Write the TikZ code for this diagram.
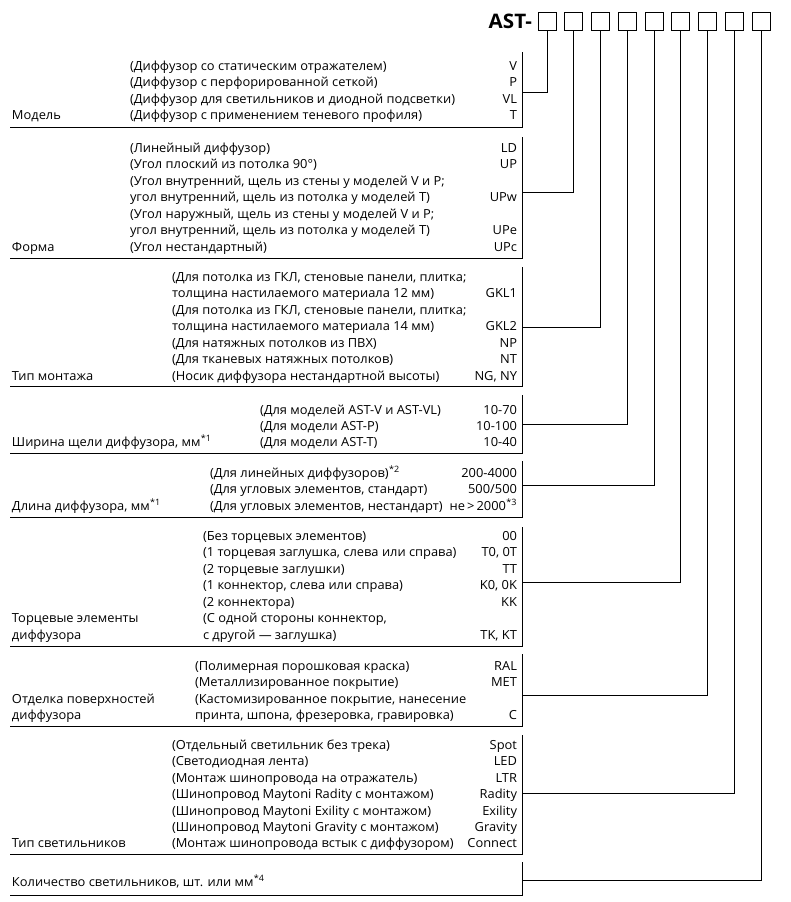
\documentclass[tikz,border=0pt]{standalone}
\usepackage{fontspec}
\setmainfont[FakeStretch=1.03]{Open Sans}
\newcommand{\fnmark}[1]{\textsuperscript{\kern0.3pt*#1}}
\begin{document}
\begin{tikzpicture}[x=1pt,y=-1pt,
  every node/.style={inner sep=0pt,outer sep=0pt},
  font=\fontsize{12.5}{14}\selectfont,
  cat/.style={anchor=base west},
  desc/.style={anchor=base west},
  code/.style={anchor=base east},
  digit/.style={draw,minimum width=18pt,minimum height=18pt,line width=0.9pt},
  rule/.style={line width=1pt}]
\useasboundingbox (0,0) rectangle (791,902);

% header
\node[anchor=east,font=\bfseries\fontsize{20}{20}\selectfont] (ast) at (532,21) {AST-};
\foreach \i in {1,...,9} \node[digit] (b\i) at ({547+26.75*(\i-1)},21) {};

% ---- Model
\node[desc] (m1) at (130,70) {(Диффузор со статическим отражателем)};
\node[code] (m1c) at (517,70) {V};
\node[desc] (m2) at (130,86.5) {(Диффузор с перфорированной сеткой)};
\node[code] (m2c) at (517,86.5) {P};
\node[desc] (m3) at (130,103) {(Диффузор для светильников и диодной подсветки)};
\node[code] (m3c) at (517,103) {VL};
\node[desc] (m4) at (130,119.5) {(Диффузор с применением теневого профиля)};
\node[code] (m4c) at (517,119.5) {T};
\node[cat] (mL) at (12,119.5) {Модель};
\coordinate (mT) at (522,52); \coordinate (mB) at (522,127); \coordinate (mE) at (10,127); \coordinate (mC) at (522,92);
\draw[rule] (mT) -- (mB) -- (mE);
\draw[rule] (mC) -| (b1.south);

% ---- Form
\node[desc] (f1) at (130,152) {(Линейный диффузор)};
\node[code] (f1c) at (517,152) {LD};
\node[desc] (f2) at (130,168.5) {(Угол плоский из потолка 90°)};
\node[code] (f2c) at (517,168.5) {UP};
\node[desc] (f3) at (130,185) {(Угол внутренний, щель из стены у моделей V и P;};
\node[desc] (f4) at (130,201.5) {угол внутренний, щель из потолка у моделей T)};
\node[code] (f4c) at (517,201.5) {UPw};
\node[desc] (f5) at (130,218) {(Угол наружный, щель из стены у моделей V и P;};
\node[desc] (f6) at (130,234.5) {угол внутренний, щель из потолка у моделей T)};
\node[code] (f6c) at (517,234.5) {UPe};
\node[desc] (f7) at (130,251) {(Угол нестандартный)};
\node[code] (f7c) at (517,251) {UPc};
\node[cat] (fL) at (12,251) {Форма};
\coordinate (fT) at (522,137); \coordinate (fB) at (522,258); \coordinate (fE) at (10,258); \coordinate (fC) at (522,192);
\draw[rule] (fT) -- (fB) -- (fE);
\draw[rule] (fC) -| (b2.south);

% ---- Mount
\node[desc] (t1) at (172,281) {(Для потолка из ГКЛ, стеновые панели, плитка;};
\node[desc] (t2) at (172,297.5) {толщина настилаемого материала 12 мм)};
\node[code] (t2c) at (517,297.5) {GKL1};
\node[desc] (t3) at (172,314) {(Для потолка из ГКЛ, стеновые панели, плитка;};
\node[desc] (t4) at (172,330.5) {толщина настилаемого материала 14 мм)};
\node[code] (t4c) at (517,330.5) {GKL2};
\node[desc] (t5) at (172,347) {(Для натяжных потолков из ПВХ)};
\node[code] (t5c) at (517,347) {NP};
\node[desc] (t6) at (172,363.5) {(Для тканевых натяжных потолков)};
\node[code] (t6c) at (517,363.5) {NT};
\node[desc] (t7) at (172,380) {(Носик диффузора нестандартной высоты)};
\node[code] (t7c) at (517,380) {NG, NY};
\node[cat] (tL) at (12,380) {Тип монтажа};
\coordinate (tT) at (522,267); \coordinate (tB) at (522,386); \coordinate (tE) at (10,386); \coordinate (tC) at (522,327);
\draw[rule] (tT) -- (tB) -- (tE);
\draw[rule] (tC) -| (b3.south);

% ---- Width
\node[desc] (w1) at (260,414) {(Для моделей AST-V и AST-VL)};
\node[code] (w1c) at (517,414) {10-70};
\node[desc] (w2) at (260,430) {(Для модели AST-P)};
\node[code] (w2c) at (517,430) {10-100};
\node[desc] (w3) at (260,446) {(Для модели AST-T)};
\node[code] (w3c) at (517,446) {10-40};
\node[cat] (wL) at (12,446) {Ширина щели диффузора, мм\fnmark{1}};
\coordinate (wT) at (522,395); \coordinate (wB) at (522,453); \coordinate (wE) at (10,453); \coordinate (wC) at (522,424);
\draw[rule] (wT) -- (wB) -- (wE);
\draw[rule] (wC) -| (b4.south);

% ---- Length
\node[desc] (l1) at (210,477) {(Для линейных диффузоров)\fnmark{2}};
\node[code] (l1c) at (517,477) {200-4000};
\node[desc] (l2) at (210,493.5) {(Для угловых элементов, стандарт)};
\node[code] (l2c) at (517,493.5) {500/500};
\node[desc] (l3) at (210,510) {(Для угловых элементов, нестандарт)};
\node[code] (l3c) at (517,510) {не\,>\,2000\fnmark{3}};
\node[cat] (lL) at (12,510) {Длина диффузора, мм\fnmark{1}};
\coordinate (lT) at (522,461); \coordinate (lB) at (522,517); \coordinate (lE) at (10,517); \coordinate (lC) at (522,485);
\draw[rule] (lT) -- (lB) -- (lE);
\draw[rule] (lC) -| (b5.south);

% ---- End elements
\node[desc] (e1) at (203,540) {(Без торцевых элементов)};
\node[code] (e1c) at (517,540) {00};
\node[desc] (e2) at (203,556.5) {(1 торцевая заглушка, слева или справа)};
\node[code] (e2c) at (517,556.5) {T0, 0T};
\node[desc] (e3) at (203,573) {(2 торцевые заглушки)};
\node[code] (e3c) at (517,573) {TT};
\node[desc] (e4) at (203,589.5) {(1 коннектор, слева или справа)};
\node[code] (e4c) at (517,589.5) {K0, 0K};
\node[desc] (e5) at (203,606) {(2 коннектора)};
\node[code] (e5c) at (517,606) {KK};
\node[desc] (e6) at (203,622.5) {(С одной стороны коннектор,};
\node[desc] (e7) at (203,639) {с другой — заглушка)};
\node[code] (e7c) at (517,639) {TK, KT};
\node[cat] (eL1) at (12,622.5) {Торцевые элементы};
\node[cat] (eL2) at (12,639) {диффузора};
\coordinate (eT) at (522,527); \coordinate (eB) at (522,646); \coordinate (eE) at (10,646); \coordinate (eC) at (522,582);
\draw[rule] (eT) -- (eB) -- (eE);
\draw[rule] (eC) -| (b6.south);

% ---- Finish
\node[desc] (s1) at (195,670) {(Полимерная порошковая краска)};
\node[code] (s1c) at (517,670) {RAL};
\node[desc] (s2) at (195,686.5) {(Металлизированное покрытие)};
\node[code] (s2c) at (517,686.5) {MET};
\node[desc] (s3) at (195,703) {(Кастомизированное покрытие, нанесение};
\node[desc] (s4) at (195,719.5) {принта, шпона, фрезеровка, гравировка)};
\node[code] (s4c) at (517,719.5) {C};
\node[cat] (sL1) at (12,703) {Отделка поверхностей};
\node[cat] (sL2) at (12,719.5) {диффузора};
\coordinate (sT) at (522,654); \coordinate (sB) at (522,726); \coordinate (sE) at (10,726); \coordinate (sC) at (522,695);
\draw[rule] (sT) -- (sB) -- (sE);
\draw[rule] (sC) -| (b7.south);

% ---- Lamps
\node[desc] (p1) at (172,749.5) {(Отдельный светильник без трека)};
\node[code] (p1c) at (517,749.5) {Spot};
\node[desc] (p2) at (172,765.9) {(Светодиодная лента)};
\node[code] (p2c) at (517,765.9) {LED};
\node[desc] (p3) at (172,782.3) {(Монтаж шинопровода на отражатель)};
\node[code] (p3c) at (517,782.3) {LTR};
\node[desc] (p4) at (172,798.7) {(Шинопровод Maytoni Radity с монтажом)};
\node[code] (p4c) at (517,798.7) {Radity};
\node[desc] (p5) at (172,815.1) {(Шинопровод Maytoni Exility с монтажом)};
\node[code] (p5c) at (517,815.1) {Exility};
\node[desc] (p6) at (172,831.5) {(Шинопровод Maytoni Gravity с монтажом)};
\node[code] (p6c) at (517,831.5) {Gravity};
\node[desc] (p7) at (172,847.9) {(Монтаж шинопровода встык с диффузором)};
\node[code] (p7c) at (517,847.9) {Connect};
\node[cat] (pL) at (12,847.9) {Тип светильников};
\coordinate (pT) at (522,735); \coordinate (pB) at (522,854); \coordinate (pE) at (10,854); \coordinate (pC) at (522,793);
\draw[rule] (pT) -- (pB) -- (pE);
\draw[rule] (pC) -| (b8.south);

% ---- Quantity
\node[cat] (qL) at (12,886) {Количество светильников, шт. или мм\fnmark{4}};
\coordinate (qT) at (522,862); \coordinate (qB) at (522,895); \coordinate (qE) at (10,895); \coordinate (qC) at (522,880);
\draw[rule] (qT) -- (qB) -- (qE);
\draw[rule] (qC) -| (b9.south);
\end{tikzpicture}
\end{document}
